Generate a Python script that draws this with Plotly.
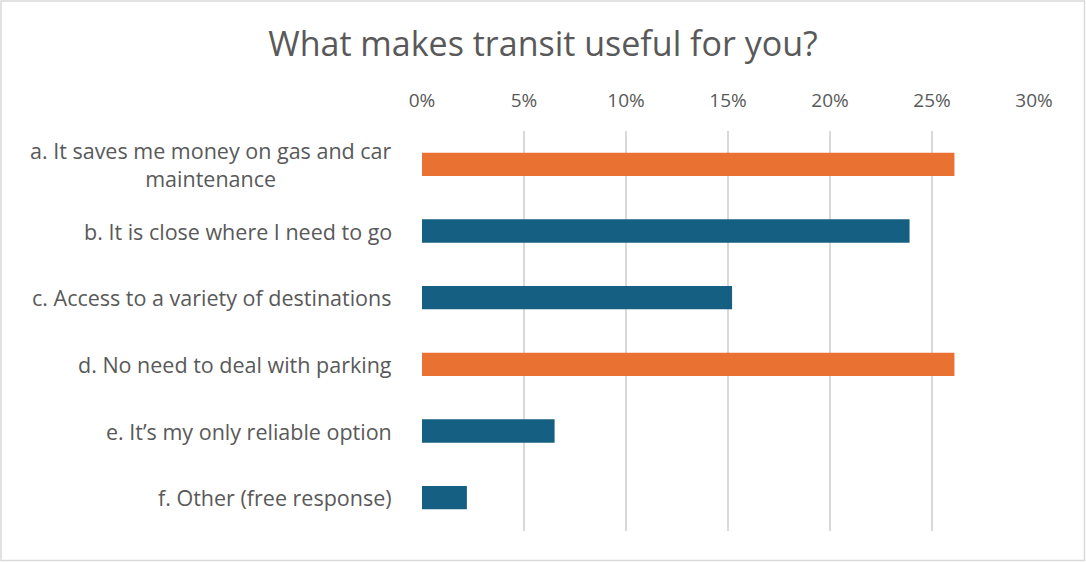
import plotly.graph_objects as go

title = "What makes transit useful for you?"
categories = [
    "a. It saves me money on gas and car<br>maintenance",
    "b. It is close where I need to go",
    "c. Access to a variety of destinations",
    "d. No need to deal with parking",
    "e. It\u2019s my only reliable option",
    "f. Other (free response)",
]
values = [0.261, 0.239, 0.152, 0.261, 0.065, 0.022]
highlighted = [True, False, False, True, False, False]
tick_vals = [0, 0.05, 0.10, 0.15, 0.20, 0.25, 0.30]
tick_text = ["0%", "5%", "10%", "15%", "20%", "25%", "30%"]

ORANGE = "#E97132"
BLUE = "#156082"
GRAY = "#595959"
FONT = "Open Sans, Liberation Sans, Arial, sans-serif"

W, H = 1086, 562
L, R, T, B = 422, 52, 131, 31
pw, ph = W - L - R, H - T - B

colors = [ORANGE if h else BLUE for h in highlighted]

fig = go.Figure(go.Bar(
    x=values, y=categories, orientation="h",
    marker=dict(color=colors, line=dict(width=0)),
    width=0.35,
))

fig.update_layout(
    width=W, height=H,
    margin=dict(l=L, r=R, t=T, b=B),
    paper_bgcolor="white", plot_bgcolor="white",
    showlegend=False,
    title=dict(text=title, x=0.5, xref="container", xanchor="center",
               y=1 - 44 / H, yref="container", yanchor="middle",
               font=dict(family=FONT, size=34, color=GRAY)),
    xaxis=dict(side="top", range=[0, 0.30], tickvals=tick_vals, ticktext=tick_text,
               showgrid=True, gridcolor="#D9D9D9", gridwidth=1.5,
               zeroline=False, showline=False, ticks="",
               ticklabelstandoff=19,
               tickfont=dict(family=FONT, size=19, color=GRAY)),
    yaxis=dict(autorange="reversed", showticklabels=False, showgrid=False,
               zeroline=False, showline=False, ticks=""),
    bargap=0.65,
)

for cat in categories:
    fig.add_annotation(x=0, xref="paper", y=cat, yref="y", xshift=-28,
                       xanchor="right", yanchor="middle", align="center",
                       text=cat, showarrow=False,
                       font=dict(family=FONT, size=21.5, color=GRAY))

fig.add_shape(type="rect", xref="paper", yref="paper",
              x0=(1 - L) / pw, x1=1 + (R - 1.5) / pw,
              y0=-(B - 1.5) / ph, y1=1 + (T - 1) / ph,
              line=dict(color="#D9D9D9", width=1.5), fillcolor="rgba(0,0,0,0)",
              layer="below")

fig.write_html("out.html",
               config={"displayModeBar": False},
               post_script="document.body.style.margin='0';document.body.style.overflow='hidden';")
